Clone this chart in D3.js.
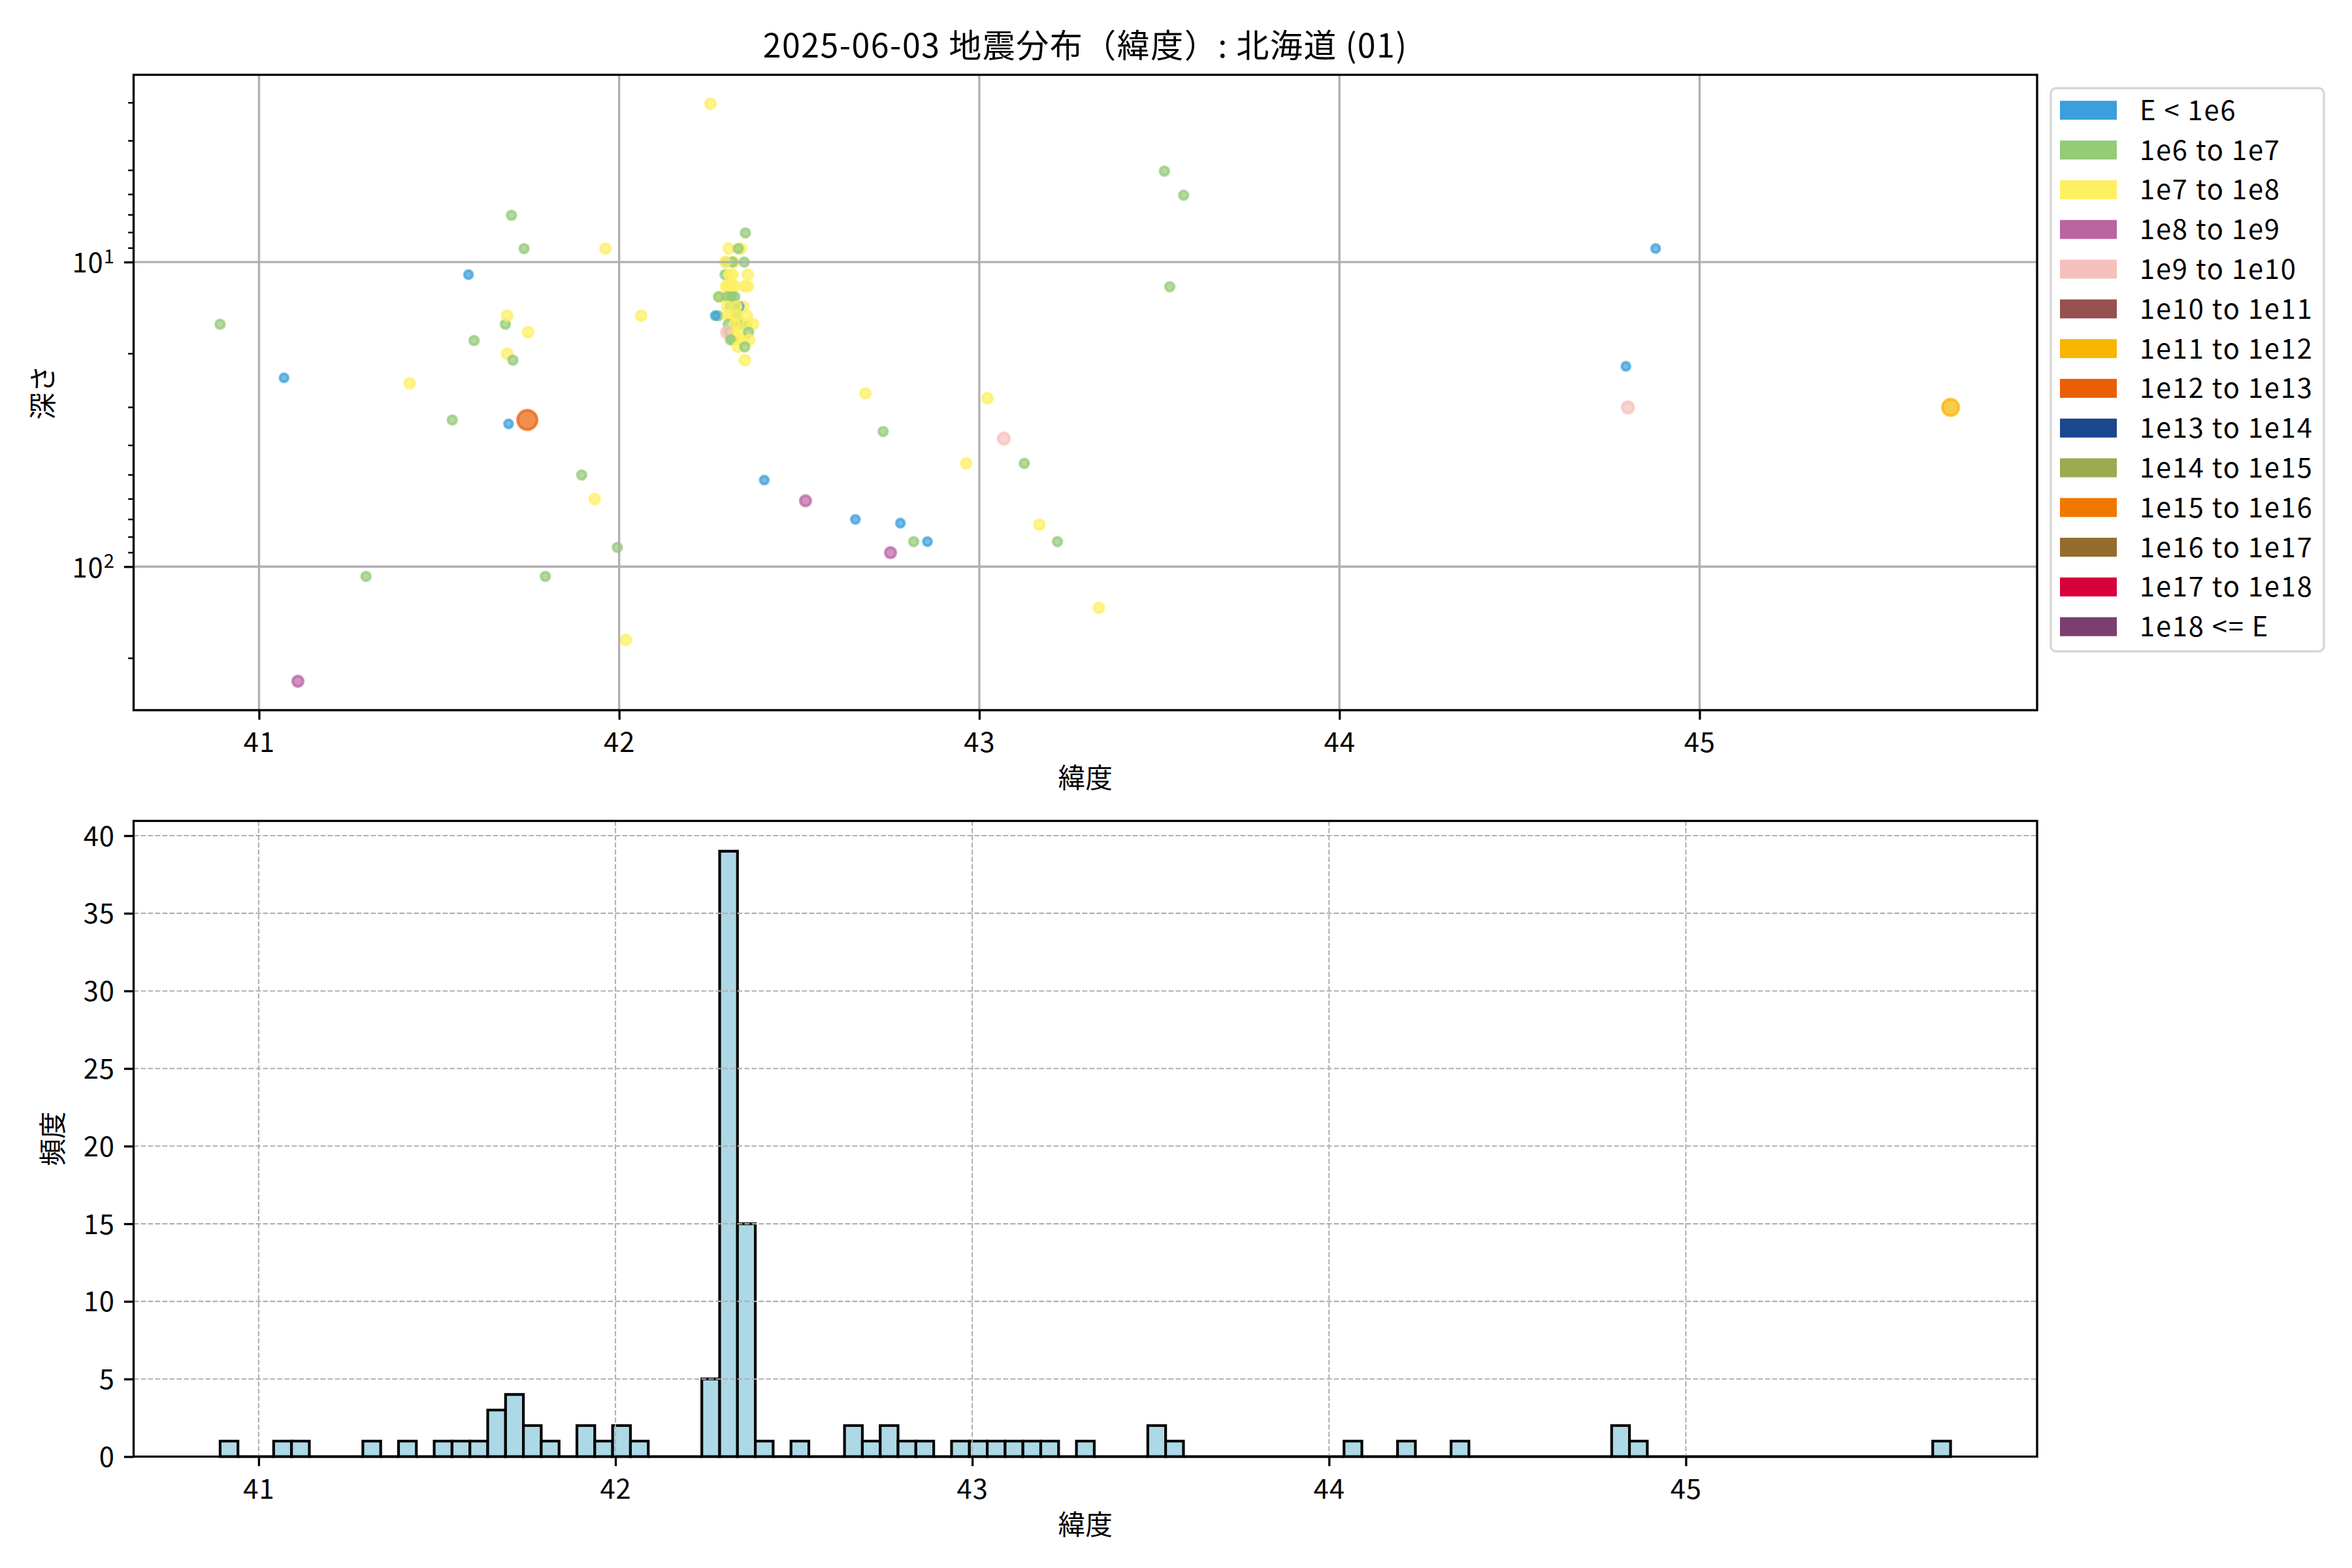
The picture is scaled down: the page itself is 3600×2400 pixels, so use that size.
<!DOCTYPE html>
<html><head><meta charset="utf-8">
<script src="https://cdn.jsdelivr.net/npm/d3@7"></script>
<style>body{margin:0;background:#fff}</style>
</head><body>
<svg id="chart" width="3600" height="2400" xmlns="http://www.w3.org/2000/svg"></svg>
<script>
// ---------------- DATA ----------------
const titleText = "2025-06-03 地震分布（緯度）: 北海道 (01)";
const energyClasses = ["E < 1e6","1e6 to 1e7","1e7 to 1e8","1e8 to 1e9","1e9 to 1e10","1e10 to 1e11","1e11 to 1e12","1e12 to 1e13","1e13 to 1e14","1e14 to 1e15","1e15 to 1e16","1e16 to 1e17","1e17 to 1e18","1e18 <= E"];
const classColors = ["#3a9fda","#93cb77","#fef060","#bb64a2","#f5c0bb","#95514d","#f7b500","#ea5f06","#1c478e","#9aab50","#f07800","#946c2c","#d6003a","#7a3f6f"];

// latitude, depth (km), energy class index (draw order)
const latitudes = [
  40.892,41.0695,41.108,41.297,41.4185,41.5365,41.5817,41.597,41.684,41.689,
  41.701,41.689,41.705,41.693,41.745,41.736,41.747,41.896,41.932,41.962,
  41.795,41.995,42.019,42.061,42.2535,42.403,42.5175,42.656,42.684,42.733,
  42.7535,42.781,42.8178,42.856,42.9637,43.0226,43.068,43.125,43.1668,43.217,
  43.332,43.514,43.5675,43.529,44.878,44.7955,44.801,45.697,
  44.065,44.215,44.365,
  42.279,42.276,42.275,42.267,
  42.306,42.318,42.312,42.316,42.308,42.326,42.335,42.302,42.318,42.308,42.334,
  42.345,42.352,42.346,
  42.3045,42.338,42.3305,42.2968,42.3149,42.294,42.294,42.306,42.315,42.297,
  42.312,42.321,42.300,42.312,42.321,42.3335,42.300,42.3245,42.3255,42.303,
  42.3275,42.3285,42.303,42.321,42.300,42.3305,42.309,42.329,
  42.3505,42.3474,42.3575,42.3487,42.3575,42.3547,42.3547,42.3717,42.3595,42.361,
  42.3487,42.3487
];
const depths = [
  16.0,24.0,238,107.7,25.0,33.0,11.0,18.1,16.0,15.0,
  7.02,20.0,21.0,34.0,33.0,9.03,17.0,50,60,9.03,
  107.7,86.5,174,15.0,3.02,52,60.8,70,27.0,36,
  90,72,82.8,82.8,45.8,28.0,38,45.8,72.8,82.8,
  136.6,5.03,6.03,12.05,9.03,22.0,30.0,30.0,
  0,0,0,
  13,13,15,15,
  17,17,15,18,13,16,16,12,10,14,18,
  14,16,18,
  9.03,9.03,9.03,10,10,10,11,11,11,12,
  12,12,13,13,13,14,14,14,14,15,
  15,15,16,16,17,17,18,19,
  8.02,10,11,12,12,15,16,16,17,18,
  19,21
];
const energyClass = [
  1,0,3,1,2,1,0,1,1,2,
  1,2,1,0,7,1,2,1,2,2,
  1,1,2,2,2,0,3,0,2,1,
  3,0,1,0,2,2,4,1,2,1,
  2,1,1,1,0,0,4,6,
  0,1,0,
  2,1,1,0,
  1,2,2,1,2,2,1,2,2,1,2,
  2,1,2,
  2,2,1,1,1,2,1,2,2,2,
  2,2,1,1,1,0,2,1,2,2,
  1,2,1,2,4,2,1,2,
  1,1,2,2,2,2,2,2,1,2,
  1,2
];
const latTicks = [41,42,43,44,45];
const countTicks = [0,5,10,15,20,25,30,35,40];
const binWidth = 0.05;

// ---------------- LAYOUT / STYLE ----------------
const L = 204.5, R = 3118;
const T1 = 114.5, B1 = 1087;
const T2 = 1256.5, B2 = 2229.5;
const FONT = "'Noto Sans CJK JP','Noto Sans',sans-serif";
const FS = 41.7;
const LS = "1.6px";
const LW = 3.33;
const radius = [6.3,6.7,7.7,8.1,8.8,10.5,12.6,14.9,16.5,18,19.5,21,22.5,24];

const svg = d3.select("#chart");
svg.append("rect").attr("width",3600).attr("height",2400).attr("fill","#fff");

const points = latitudes.map((lat,i)=>({lat, depth: depths[i], cls: energyClass[i]}));

// ---------- top scatter ----------
const latExt = d3.extent(latitudes);
const xPad = (latExt[1]-latExt[0])*0.05;
const xTop = d3.scaleLinear().domain([latExt[0]-xPad, latExt[1]+xPad]).range([L,R]);
const posDepths = depths.filter(d=>d>0);
const lExt = d3.extent(posDepths).map(Math.log10);
const lPad = (lExt[1]-lExt[0])*0.05;
const yTop = d3.scaleLog().domain([Math.pow(10,lExt[0]-lPad), Math.pow(10,lExt[1]+lPad)]).range([T1,B1]);

const gTop = svg.append("g");
const clipTop = svg.append("clipPath").attr("id","clipTop");
clipTop.append("rect").attr("x",L).attr("y",T1).attr("width",R-L).attr("height",B1-T1);

const ptsG = gTop.append("g").attr("clip-path","url(#clipTop)");
ptsG.selectAll("circle").data(points.filter(p=>p.depth>0)).join("circle")
  .attr("cx",d=>xTop(d.lat)).attr("cy",d=>yTop(d.depth))
  .attr("r",d=>radius[d.cls])
  .attr("fill",d=>classColors[d.cls]).attr("fill-opacity",0.7)
  .attr("stroke",d=>classColors[d.cls]).attr("stroke-opacity",0.7)
  .attr("stroke-width",4.17);

const yAllTicks = yTop.ticks();
const yMajor = yAllTicks.filter(v=>Math.abs(Math.log10(v)-Math.round(Math.log10(v)))<1e-9);
const yMinor = yAllTicks.filter(v=>!yMajor.includes(v));
const gridTop = gTop.append("g").attr("stroke","#b0b0b0").attr("stroke-width",LW);
gridTop.selectAll(".gx").data(latTicks).join("line")
  .attr("x1",d=>xTop(d)).attr("x2",d=>xTop(d)).attr("y1",T1).attr("y2",B1);
gridTop.selectAll(".gy").data(yMajor).join("line")
  .attr("y1",d=>yTop(d)).attr("y2",d=>yTop(d)).attr("x1",L).attr("x2",R);

function styleAxis(g){
  g.select(".domain").remove();
  g.selectAll(".tick line").attr("stroke","#000").attr("stroke-width",LW);
  g.selectAll(".tick text").attr("font-family",FONT).attr("font-size",FS).attr("fill","#000").attr("letter-spacing","1px");
}
const axTopX = gTop.append("g").attr("transform",`translate(0,${B1})`)
  .call(d3.axisBottom(xTop).tickValues(latTicks).tickSize(14.6).tickPadding(20).tickFormat(d3.format("d")));
styleAxis(axTopX);
const axTopY = gTop.append("g").attr("transform",`translate(${L},0)`)
  .call(d3.axisLeft(yTop).tickValues(yMajor).tickSize(14.6).tickPadding(14));
styleAxis(axTopY);
axTopY.selectAll(".tick text").attr("dy","0.38em").each(function(d){
  const t = d3.select(this); t.text("");
  t.append("tspan").text("10");
  t.append("tspan").attr("dy","-0.5em").attr("font-size",FS*0.7).text(Math.round(Math.log10(d)));
});
gTop.append("g").selectAll("line").data(yMinor).join("line")
  .attr("x1",L).attr("x2",L-8.3).attr("y1",d=>yTop(d)).attr("y2",d=>yTop(d))
  .attr("stroke","#000").attr("stroke-width",2.5);
gTop.append("rect").attr("x",L).attr("y",T1).attr("width",R-L).attr("height",B1-T1)
  .attr("fill","none").attr("stroke","#000").attr("stroke-width",LW);

svg.append("text").attr("x",(L+R)/2).attr("y",88).attr("text-anchor","middle")
  .attr("font-family",FONT).attr("font-size",50).attr("letter-spacing","1.5px").text(titleText);
svg.append("text").attr("x",(L+R)/2).attr("y",B1+119).attr("text-anchor","middle")
  .attr("font-family",FONT).attr("font-size",FS).text("緯度");
svg.append("text").attr("transform",`translate(81,${(T1+B1)/2}) rotate(-90)`).attr("text-anchor","middle")
  .attr("font-family",FONT).attr("font-size",FS).text("深さ");

// legend
const lg = svg.append("g").attr("transform",`translate(3139,135)`);
lg.append("rect").attr("width",418).attr("height",862).attr("rx",8)
  .attr("fill","#fff").attr("fill-opacity",0.8).attr("stroke","#d6d6d6").attr("stroke-width",LW);
const le = lg.selectAll(".le").data(energyClasses).join("g")
  .attr("transform",(d,i)=>`translate(0,${33.8+i*60.8})`);
le.append("rect").attr("x",14).attr("y",-14.5).attr("width",87).attr("height",29)
  .attr("fill",(d,i)=>classColors[i]);
le.append("text").attr("x",136).attr("dy","0.36em").attr("font-family",FONT).attr("font-size",FS)
  .attr("letter-spacing","1.8px").text(d=>d);

// ---------- bottom histogram ----------
const edges = d3.range(latExt[0], latExt[1]+binWidth, binWidth);
const nb = edges.length-1;
const counts = new Array(nb).fill(0);
latitudes.forEach(v=>{
  let i = d3.bisectRight(edges, v)-1;
  if (i>=nb) i = nb-1;
  if (i>=0) counts[i]++;
});
const bins = counts.map((c,i)=>({x0:edges[i], x1:edges[i+1], c}));
const hPad = (edges[nb]-edges[0])*0.05;
const xHist = d3.scaleLinear().domain([edges[0]-hPad, edges[nb]+hPad]).range([L,R]);
const yHist = d3.scaleLinear().domain([0, d3.max(counts)*1.05]).range([B2,T2]);

const gBot = svg.append("g");
gBot.append("g").selectAll("path").data(bins).join("path")
  .attr("d",d=>`M${xHist(d.x0)},${yHist(0)}V${yHist(d.c)}H${xHist(d.x1)}V${yHist(0)}Z`)
  .attr("fill","#add8e6").attr("stroke","#000").attr("stroke-width",4.17).attr("stroke-linejoin","miter");

const gridBot = gBot.append("g").attr("stroke","#b0b0b0").attr("stroke-width",2.08).attr("stroke-dasharray","7.7,3.3");
gridBot.selectAll(".gx").data(latTicks).join("line")
  .attr("x1",d=>xHist(d)).attr("x2",d=>xHist(d)).attr("y1",T2).attr("y2",B2);
gridBot.selectAll(".gy").data(countTicks).join("line")
  .attr("y1",d=>yHist(d)).attr("y2",d=>yHist(d)).attr("x1",L).attr("x2",R);

const axBotX = gBot.append("g").attr("transform",`translate(0,${B2})`)
  .call(d3.axisBottom(xHist).tickValues(latTicks).tickSize(14.6).tickPadding(20).tickFormat(d3.format("d")));
styleAxis(axBotX);
const axBotY = gBot.append("g").attr("transform",`translate(${L},0)`)
  .call(d3.axisLeft(yHist).tickValues(countTicks).tickSize(14.6).tickPadding(14).tickFormat(d3.format("d")));
styleAxis(axBotY);
axBotY.selectAll(".tick text").attr("dy","0.36em");
gBot.append("rect").attr("x",L).attr("y",T2).attr("width",R-L).attr("height",B2-T2)
  .attr("fill","none").attr("stroke","#000").attr("stroke-width",LW);

svg.append("text").attr("x",(L+R)/2).attr("y",B2+119).attr("text-anchor","middle")
  .attr("font-family",FONT).attr("font-size",FS).text("緯度");
svg.append("text").attr("transform",`translate(96,${(T2+B2)/2}) rotate(-90)`).attr("text-anchor","middle")
  .attr("font-family",FONT).attr("font-size",FS).text("頻度");
</script>
</body></html>
